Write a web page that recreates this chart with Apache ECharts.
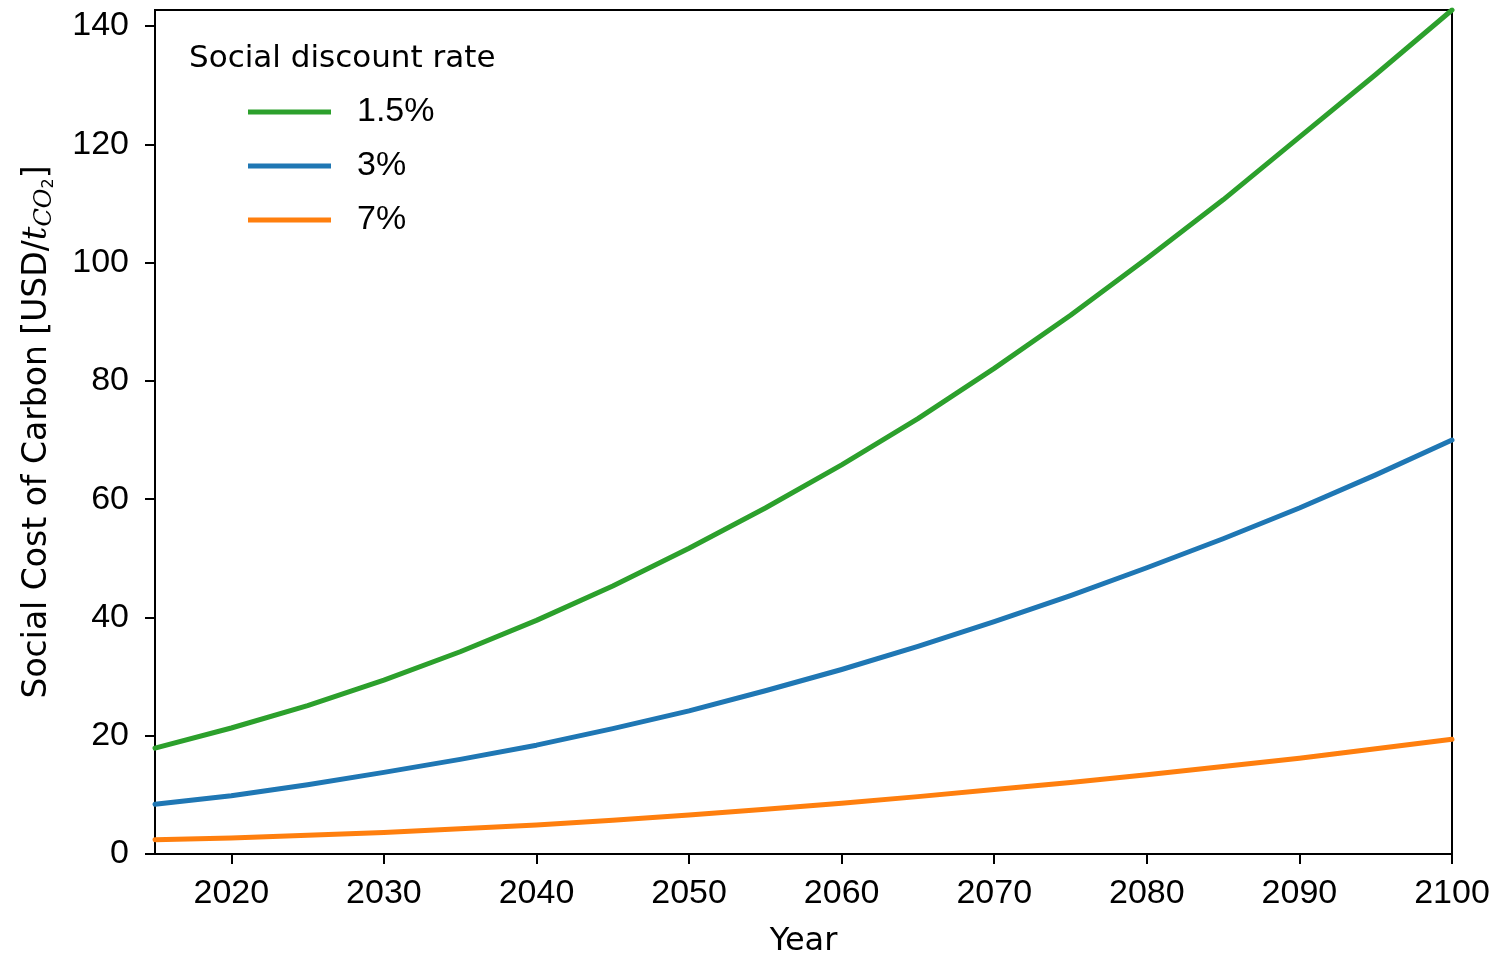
<!DOCTYPE html>
<html>
<head>
<meta charset="utf-8">
<script src="https://cdn.jsdelivr.net/npm/echarts@6/dist/echarts.min.js"></script>
<style>
  html, body { margin: 0; padding: 0; background: #ffffff; }
  #chart { width: 1496px; height: 956px; }
</style>
</head>
<body>
<div id="chart"></div>
<script>
// Projected social cost of carbon (USD per tonne CO2) under three discount rates
const years = [2015, 2020, 2025, 2030, 2035, 2040, 2045, 2050, 2055, 2060,
               2065, 2070, 2075, 2080, 2085, 2090, 2095, 2100];
const scc15 = [17.9, 21.3, 25.1, 29.4, 34.2, 39.5, 45.3, 51.7, 58.5, 65.8,
               73.6, 82.1, 91.1, 100.7, 110.6, 121.2, 131.8, 142.7];
const scc3  = [8.4, 9.85, 11.7, 13.8, 16.0, 18.4, 21.2, 24.2, 27.6, 31.2,
               35.1, 39.3, 43.7, 48.4, 53.3, 58.5, 64.1, 70.0];
const scc7  = [2.4, 2.7, 3.15, 3.65, 4.25, 4.9, 5.7, 6.6, 7.55, 8.6,
               9.7, 10.9, 12.1, 13.4, 14.8, 16.2, 17.8, 19.4];
const seriesNames = ['1.5%', '3%', '7%'];
const seriesColors = ['#2ca02c', '#1f77b4', '#ff7f0e'];
const xTickValues = [2020, 2030, 2040, 2050, 2060, 2070, 2080, 2090, 2100];
const yTickValues = [0, 20, 40, 60, 80, 100, 120, 140];

const FONT = 'Liberation Sans';
const WIDE_FONT = 'DejaVu Sans';
const pairs = vals => years.map((y, i) => [y, vals[i]]);

const chart = echarts.init(document.getElementById('chart'), null, { renderer: 'canvas' });

chart.setOption({
  backgroundColor: '#ffffff',
  animation: false,
  title: {
    text: 'Social discount rate',
    left: 189,
    top: 41,
    padding: 0,
    textStyle: { fontFamily: WIDE_FONT, fontSize: 31, fontWeight: 'normal', color: '#000', lineHeight: 36 }
  },
  legend: {
    orient: 'vertical',
    left: 248,
    top: 94,
    padding: 0,
    itemWidth: 83,
    itemHeight: 5,
    itemGap: 18,
    icon: 'rect',
    selectedMode: false,
    data: seriesNames,
    textStyle: { fontFamily: FONT, fontSize: 34, color: '#000', lineHeight: 36, padding: [0, 0, 0, 21] }
  },
  grid: {
    left: 155, right: 44, top: 10, bottom: 102,
    outerBoundsMode: 'none',
    containLabel: false,
    show: true, borderColor: '#000', borderWidth: 2, backgroundColor: 'transparent'
  },
  xAxis: {
    type: 'value',
    min: years[0],
    max: years[years.length - 1],
    name: 'Year',
    nameLocation: 'middle',
    nameGap: 72,
    nameTextStyle: { fontFamily: WIDE_FONT, fontSize: 32, color: '#000' },
    axisLine: { show: true, onZero: false, lineStyle: { color: '#000', width: 2 } },
    axisTick: { show: true, inside: false, length: 10, customValues: xTickValues, lineStyle: { color: '#000', width: 2 } },
    axisLabel: {
      customValues: xTickValues, margin: 23, fontFamily: FONT, fontSize: 34, color: '#000',
      formatter: v => String(v)
    },
    splitLine: { show: false }
  },
  yAxis: {
    type: 'value',
    min: 0,
    max: 'dataMax',
    name: 'Social Cost of Carbon [USD/{t|t}{s|CO}{n|2}]',
    nameLocation: 'middle',
    nameRotate: 90,
    nameGap: 98,
    nameTextStyle: {
      fontFamily: WIDE_FONT, fontSize: 33, color: '#000', lineHeight: 40,
      rich: {
        t: { fontFamily: 'DejaVu Serif', fontStyle: 'italic', fontSize: 34, color: '#000', verticalAlign: 'middle' },
        s: { fontFamily: 'DejaVu Serif', fontStyle: 'italic', fontSize: 24, color: '#000', verticalAlign: 'bottom', lineHeight: 24 },
        n: { fontFamily: WIDE_FONT, fontSize: 16, color: '#000', verticalAlign: 'bottom', lineHeight: 17 }
      }
    },
    axisLine: { show: true, lineStyle: { color: '#000', width: 2 } },
    axisTick: { show: true, inside: false, length: 10, customValues: yTickValues, lineStyle: { color: '#000', width: 2 } },
    axisLabel: {
      customValues: yTickValues, margin: 26, fontFamily: FONT, fontSize: 34, color: '#000',
      formatter: v => String(v)
    },
    splitLine: { show: false }
  },
  series: [scc15, scc3, scc7].map((vals, i) => ({
    name: seriesNames[i],
    type: 'line',
    data: pairs(vals),
    symbol: 'none',
    smooth: false,
    clip: true,
    color: seriesColors[i],
    lineStyle: { color: seriesColors[i], width: 5, cap: 'round', join: 'round' }
  }))
});
</script>
</body>
</html>
